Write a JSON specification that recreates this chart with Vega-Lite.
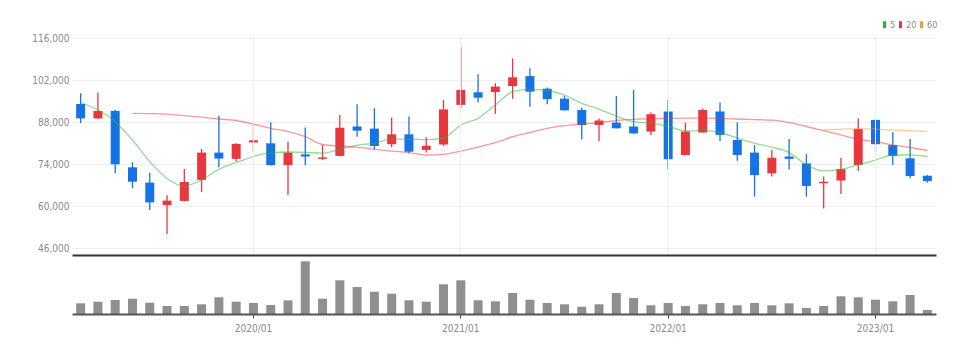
{
  "$schema": "https://vega.github.io/schema/vega-lite/v6.json",
  "background": "white",
  "padding": {"left": 0, "top": 20, "right": 10, "bottom": 5},
  "spacing": 2,
  "config": {
    "view": {"stroke": null},
    "font": "'Liberation Sans Narrow', 'DejaVu Sans Condensed', 'Roboto Condensed', 'Liberation Sans', sans-serif",
    "axis": {"labelFont": "'Liberation Sans Narrow', 'DejaVu Sans Condensed', 'Roboto Condensed', 'Liberation Sans', sans-serif", "labelFontSize": 10, "labelColor": "#8a8a8a"},
    "legend": {"labelFont": "'Liberation Sans Narrow', 'DejaVu Sans Condensed', 'Roboto Condensed', 'Liberation Sans', sans-serif"}
  },
  "datasets": {
    "ohlc": [
      {"date": "2019/03", "open": 94100, "high": 97700, "low": 87700, "close": 89300, "volume": 642},
      {"date": "2019/04", "open": 89300, "high": 97900, "low": 89000, "close": 91800, "volume": 738},
      {"date": "2019/05", "open": 91800, "high": 92100, "low": 71000, "close": 74000, "volume": 840},
      {"date": "2019/06", "open": 73000, "high": 74700, "low": 66000, "close": 68200, "volume": 918},
      {"date": "2019/07", "open": 67900, "high": 71200, "low": 58800, "close": 61300, "volume": 678},
      {"date": "2019/08", "open": 60400, "high": 63700, "low": 50800, "close": 61900, "volume": 480},
      {"date": "2019/09", "open": 61800, "high": 72400, "low": 61600, "close": 68100, "volume": 480},
      {"date": "2019/10", "open": 68800, "high": 79100, "low": 64700, "close": 77900, "volume": 582},
      {"date": "2019/11", "open": 77900, "high": 90200, "low": 73000, "close": 75900, "volume": 1002},
      {"date": "2019/12", "open": 75800, "high": 81000, "low": 74900, "close": 80800, "volume": 738},
      {"date": "2020/01", "open": 81300, "high": 88000, "low": 77700, "close": 82000, "volume": 660},
      {"date": "2020/02", "open": 81000, "high": 88000, "low": 73600, "close": 73700, "volume": 540},
      {"date": "2020/03", "open": 73700, "high": 81600, "low": 63800, "close": 77900, "volume": 822},
      {"date": "2020/04", "open": 77300, "high": 86300, "low": 73700, "close": 76600, "volume": 3162},
      {"date": "2020/05", "open": 75800, "high": 80400, "low": 75400, "close": 76300, "volume": 918},
      {"date": "2020/06", "open": 76800, "high": 90400, "low": 76700, "close": 86200, "volume": 2022},
      {"date": "2020/07", "open": 86600, "high": 94000, "low": 83200, "close": 85200, "volume": 1620},
      {"date": "2020/08", "open": 85900, "high": 92700, "low": 79000, "close": 80100, "volume": 1338},
      {"date": "2020/09", "open": 80700, "high": 89600, "low": 79700, "close": 84000, "volume": 1218},
      {"date": "2020/10", "open": 84000, "high": 89900, "low": 77700, "close": 78200, "volume": 822},
      {"date": "2020/11", "open": 78800, "high": 83000, "low": 77900, "close": 80200, "volume": 738},
      {"date": "2020/12", "open": 80600, "high": 95400, "low": 80100, "close": 92300, "volume": 1782},
      {"date": "2021/01", "open": 93800, "high": 113200, "low": 92700, "close": 98800, "volume": 2022},
      {"date": "2021/02", "open": 98000, "high": 104000, "low": 94600, "close": 96200, "volume": 822},
      {"date": "2021/03", "open": 98100, "high": 101000, "low": 90800, "close": 99900, "volume": 762},
      {"date": "2021/04", "open": 100100, "high": 109300, "low": 95800, "close": 103000, "volume": 1260},
      {"date": "2021/05", "open": 103400, "high": 106000, "low": 93200, "close": 98200, "volume": 858},
      {"date": "2021/06", "open": 99200, "high": 99600, "low": 94000, "close": 95700, "volume": 660},
      {"date": "2021/07", "open": 95900, "high": 96800, "low": 91900, "close": 92000, "volume": 582},
      {"date": "2021/08", "open": 92100, "high": 92900, "low": 82300, "close": 87100, "volume": 438},
      {"date": "2021/09", "open": 87100, "high": 89300, "low": 81800, "close": 88600, "volume": 582},
      {"date": "2021/10", "open": 87900, "high": 96800, "low": 85900, "close": 86000, "volume": 1260},
      {"date": "2021/11", "open": 86600, "high": 98800, "low": 84200, "close": 84300, "volume": 960},
      {"date": "2021/12", "open": 84900, "high": 91300, "low": 83800, "close": 90700, "volume": 522},
      {"date": "2022/01", "open": 91600, "high": 95400, "low": 72300, "close": 75700, "volume": 660},
      {"date": "2022/02", "open": 77100, "high": 87900, "low": 77000, "close": 84900, "volume": 480},
      {"date": "2022/03", "open": 84600, "high": 92600, "low": 84500, "close": 92100, "volume": 582},
      {"date": "2022/04", "open": 91600, "high": 94600, "low": 81800, "close": 83800, "volume": 660},
      {"date": "2022/05", "open": 82100, "high": 88000, "low": 75200, "close": 77100, "volume": 522},
      {"date": "2022/06", "open": 77900, "high": 80400, "low": 63200, "close": 70400, "volume": 660},
      {"date": "2022/07", "open": 71000, "high": 78800, "low": 69900, "close": 76200, "volume": 522},
      {"date": "2022/08", "open": 76600, "high": 82400, "low": 72300, "close": 75800, "volume": 642},
      {"date": "2022/09", "open": 74300, "high": 77400, "low": 63200, "close": 66800, "volume": 360},
      {"date": "2022/10", "open": 67700, "high": 69900, "low": 59300, "close": 68200, "volume": 480},
      {"date": "2022/11", "open": 68600, "high": 76200, "low": 64100, "close": 72400, "volume": 1062},
      {"date": "2022/12", "open": 73800, "high": 89300, "low": 71800, "close": 85800, "volume": 1002},
      {"date": "2023/01", "open": 88800, "high": 89000, "low": 78200, "close": 80700, "volume": 858},
      {"date": "2023/02", "open": 80400, "high": 84700, "low": 73800, "close": 76800, "volume": 762},
      {"date": "2023/03", "open": 76000, "high": 82400, "low": 69300, "close": 70100, "volume": 1140},
      {"date": "2023/04", "open": 70200, "high": 70400, "low": 67900, "close": 68400, "volume": 240}
    ],
    "ma": [
      {"date": "2019/03", "ma": "5", "value": 94600},
      {"date": "2019/04", "ma": "5", "value": 92100},
      {"date": "2019/05", "ma": "5", "value": 88200},
      {"date": "2019/06", "ma": "5", "value": 82100},
      {"date": "2019/07", "ma": "5", "value": 74900},
      {"date": "2019/08", "ma": "5", "value": 69300},
      {"date": "2019/09", "ma": "5", "value": 66800},
      {"date": "2019/10", "ma": "5", "value": 68800},
      {"date": "2019/11", "ma": "5", "value": 72300},
      {"date": "2019/12", "ma": "5", "value": 74600},
      {"date": "2020/01", "ma": "5", "value": 76600},
      {"date": "2020/02", "ma": "5", "value": 77900},
      {"date": "2020/03", "ma": "5", "value": 78100},
      {"date": "2020/04", "ma": "5", "value": 78000},
      {"date": "2020/05", "ma": "5", "value": 77700},
      {"date": "2020/06", "ma": "5", "value": 79000},
      {"date": "2020/07", "ma": "5", "value": 80400},
      {"date": "2020/08", "ma": "5", "value": 81000},
      {"date": "2020/09", "ma": "5", "value": 82400},
      {"date": "2020/10", "ma": "5", "value": 82400},
      {"date": "2020/11", "ma": "5", "value": 82200},
      {"date": "2020/12", "ma": "5", "value": 82700},
      {"date": "2021/01", "ma": "5", "value": 87100},
      {"date": "2021/02", "ma": "5", "value": 89300},
      {"date": "2021/03", "ma": "5", "value": 93800},
      {"date": "2021/04", "ma": "5", "value": 98200},
      {"date": "2021/05", "ma": "5", "value": 99000},
      {"date": "2021/06", "ma": "5", "value": 98600},
      {"date": "2021/07", "ma": "5", "value": 97100},
      {"date": "2021/08", "ma": "5", "value": 94300},
      {"date": "2021/09", "ma": "5", "value": 92400},
      {"date": "2021/10", "ma": "5", "value": 90100},
      {"date": "2021/11", "ma": "5", "value": 88200},
      {"date": "2021/12", "ma": "5", "value": 87700},
      {"date": "2022/01", "ma": "5", "value": 86600},
      {"date": "2022/02", "ma": "5", "value": 85100},
      {"date": "2022/03", "ma": "5", "value": 85200},
      {"date": "2022/04", "ma": "5", "value": 84600},
      {"date": "2022/05", "ma": "5", "value": 82700},
      {"date": "2022/06", "ma": "5", "value": 81000},
      {"date": "2022/07", "ma": "5", "value": 79700},
      {"date": "2022/08", "ma": "5", "value": 77900},
      {"date": "2022/09", "ma": "5", "value": 73800},
      {"date": "2022/10", "ma": "5", "value": 71800},
      {"date": "2022/11", "ma": "5", "value": 72300},
      {"date": "2022/12", "ma": "5", "value": 73800},
      {"date": "2023/01", "ma": "5", "value": 75400},
      {"date": "2023/02", "ma": "5", "value": 77100},
      {"date": "2023/03", "ma": "5", "value": 77100},
      {"date": "2023/04", "ma": "5", "value": 76600},
      {"date": "2019/06", "ma": "20", "value": 91000},
      {"date": "2019/07", "ma": "20", "value": 90900},
      {"date": "2019/08", "ma": "20", "value": 90700},
      {"date": "2019/09", "ma": "20", "value": 90200},
      {"date": "2019/10", "ma": "20", "value": 89700},
      {"date": "2019/11", "ma": "20", "value": 89100},
      {"date": "2019/12", "ma": "20", "value": 88600},
      {"date": "2020/01", "ma": "20", "value": 87400},
      {"date": "2020/02", "ma": "20", "value": 86000},
      {"date": "2020/03", "ma": "20", "value": 84900},
      {"date": "2020/04", "ma": "20", "value": 83200},
      {"date": "2020/05", "ma": "20", "value": 80600},
      {"date": "2020/06", "ma": "20", "value": 80100},
      {"date": "2020/07", "ma": "20", "value": 79700},
      {"date": "2020/08", "ma": "20", "value": 79000},
      {"date": "2020/09", "ma": "20", "value": 78400},
      {"date": "2020/10", "ma": "20", "value": 77900},
      {"date": "2020/11", "ma": "20", "value": 77100},
      {"date": "2020/12", "ma": "20", "value": 77300},
      {"date": "2021/01", "ma": "20", "value": 78400},
      {"date": "2021/02", "ma": "20", "value": 79700},
      {"date": "2021/03", "ma": "20", "value": 81200},
      {"date": "2021/04", "ma": "20", "value": 83200},
      {"date": "2021/05", "ma": "20", "value": 84600},
      {"date": "2021/06", "ma": "20", "value": 86000},
      {"date": "2021/07", "ma": "20", "value": 86900},
      {"date": "2021/08", "ma": "20", "value": 87400},
      {"date": "2021/09", "ma": "20", "value": 87900},
      {"date": "2021/10", "ma": "20", "value": 88600},
      {"date": "2021/11", "ma": "20", "value": 89000},
      {"date": "2021/12", "ma": "20", "value": 89200},
      {"date": "2022/01", "ma": "20", "value": 89300},
      {"date": "2022/02", "ma": "20", "value": 89400},
      {"date": "2022/03", "ma": "20", "value": 89400},
      {"date": "2022/04", "ma": "20", "value": 89300},
      {"date": "2022/05", "ma": "20", "value": 89100},
      {"date": "2022/06", "ma": "20", "value": 88900},
      {"date": "2022/07", "ma": "20", "value": 88700},
      {"date": "2022/08", "ma": "20", "value": 87900},
      {"date": "2022/09", "ma": "20", "value": 86600},
      {"date": "2022/10", "ma": "20", "value": 85200},
      {"date": "2022/11", "ma": "20", "value": 83800},
      {"date": "2022/12", "ma": "20", "value": 82300},
      {"date": "2023/01", "ma": "20", "value": 81600},
      {"date": "2023/02", "ma": "20", "value": 80400},
      {"date": "2023/03", "ma": "20", "value": 79600},
      {"date": "2023/04", "ma": "20", "value": 78600},
      {"date": "2022/10", "ma": "60", "value": 85400},
      {"date": "2022/11", "ma": "60", "value": 85700},
      {"date": "2022/12", "ma": "60", "value": 85800},
      {"date": "2023/01", "ma": "60", "value": 85700},
      {"date": "2023/02", "ma": "60", "value": 85400},
      {"date": "2023/03", "ma": "60", "value": 85200},
      {"date": "2023/04", "ma": "60", "value": 84900}
    ]
  },
  "vconcat": [
    {
      "width": 864,
      "height": 220,
      "layer": [
        {
          "data": {"name": "ohlc"},
          "mark": {"type": "rule", "strokeWidth": 1.3},
          "encoding": {
            "x": {
              "field": "date", "type": "ordinal",
              "scale": {"type": "band", "paddingInner": 0, "paddingOuter": 0},
              "axis": {"title": null, "labels": false, "ticks": false, "domain": true, "domainColor": "#333333", "domainWidth": 2, "grid": true, "gridColor": "#eeeeee", "values": ["2020/01", "2021/01", "2022/01", "2023/01"], "bandPosition": 0.5, "minExtent": 0, "maxExtent": 0, "zindex": 1}
            },
            "y": {
              "field": "low", "type": "quantitative",
              "scale": {"domain": [43770, 117100], "nice": false, "zero": false},
              "axis": {"title": null, "values": [46000, 60000, 74000, 88000, 102000, 116000], "labelExpr": "format(datum.value, ',')", "domain": false, "ticks": false, "grid": true, "gridColor": "#eeeeee", "labelPadding": 3, "minExtent": 72, "maxExtent": 72}
            },
            "y2": {"field": "high"},
            "color": {"condition": {"test": "datum.close >= datum.open", "value": "#e8383d"}, "value": "#1673e6"}
          }
        },
        {
          "data": {"name": "ohlc"},
          "mark": {"type": "bar", "size": 9},
          "encoding": {
            "x": {"field": "date", "type": "ordinal"},
            "y": {"field": "open", "type": "quantitative"},
            "y2": {"field": "close"},
            "color": {"condition": {"test": "datum.close >= datum.open", "value": "#e8383d"}, "value": "#1673e6"}
          }
        },
        {
          "data": {"name": "ma"},
          "mark": {"type": "line", "interpolate": "monotone", "strokeWidth": 1.3, "opacity": 0.5},
          "encoding": {
            "x": {"field": "date", "type": "ordinal"},
            "y": {"field": "value", "type": "quantitative"},
            "color": {
              "field": "ma", "type": "nominal",
              "scale": {"domain": ["5", "20", "60"], "range": ["#2cb52c", "#ee3340", "#f39a2e"]},
              "legend": {
                "title": null, "orient": "none", "legendX": 808, "legendY": -15, "direction": "horizontal",
                "symbolType": "M-0.6,-1.4H0.6V1.4H-0.6Z", "symbolSize": 25, "symbolOpacity": 1, "symbolStrokeWidth": 0,
                "labelFontSize": 9, "labelColor": "#8a8a8a", "labelOffset": 1, "columnPadding": 0,
                "encode": {"symbols": {"update": {"fill": {"signal": "datum.value === '5' ? '#2cb52c' : datum.value === '20' ? '#ee3340' : '#f39a2e'"}, "opacity": {"value": 1}}}}
              }
            }
          }
        }
      ]
    },
    {
      "width": 864,
      "height": 57,
      "data": {"name": "ohlc"},
      "mark": {"type": "bar", "size": 9, "color": "#8f8f8f"},
      "encoding": {
        "x": {
          "field": "date", "type": "ordinal",
          "scale": {"type": "band", "paddingInner": 0, "paddingOuter": 0},
          "axis": {"title": null, "values": ["2020/01", "2021/01", "2022/01", "2023/01"], "labelAngle": 0, "domainColor": "#555555", "domainWidth": 2, "tickColor": "#444444", "ticks": true, "tickSize": 4, "grid": false, "labelPadding": 5, "bandPosition": 0.5, "zindex": 1}
        },
        "y": {
          "field": "volume", "type": "quantitative",
          "scale": {"domain": [0, 3420], "nice": false},
          "axis": {"title": null, "labels": false, "ticks": false, "domain": false, "grid": false, "minExtent": 72, "maxExtent": 72}
        }
      }
    }
  ]
}
